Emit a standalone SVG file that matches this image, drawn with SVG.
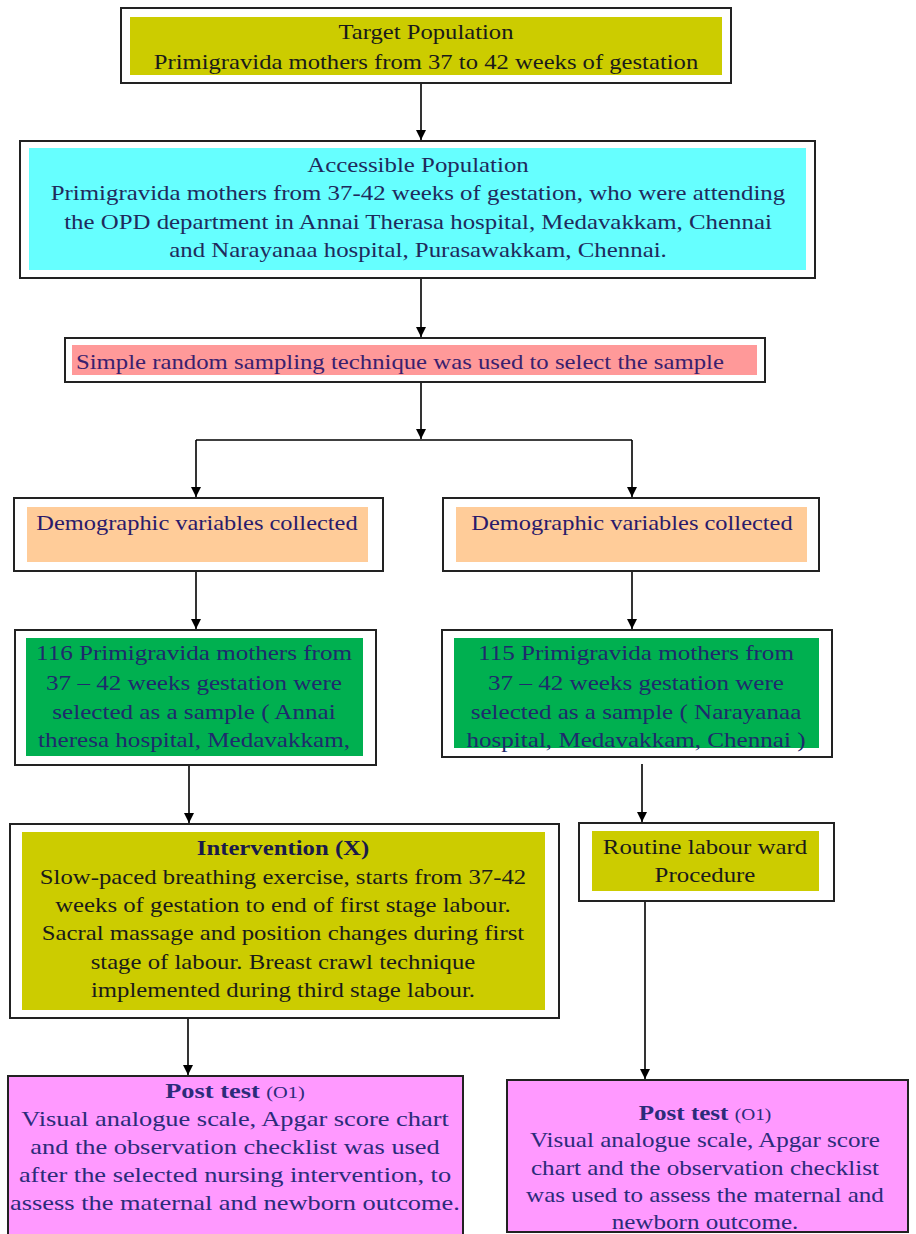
<svg xmlns="http://www.w3.org/2000/svg" width="916" height="1234" viewBox="0 0 916 1234">
<defs>
<marker id="ah" viewBox="0 0 10 10" refX="10" refY="5" markerWidth="10" markerHeight="10" markerUnits="userSpaceOnUse" orient="auto">
<path d="M0,0 L10,5 L0,10 z" fill="#000"/>
</marker>
<style>
.frame{fill:#fff;stroke:#222;stroke-width:2}
.t{font-family:"Liberation Serif","Times New Roman",serif;font-size:22px;text-anchor:middle}
.c{stroke:#000;stroke-width:1.6;fill:none}
.ca{stroke:#000;stroke-width:1.6;fill:none;marker-end:url(#ah)}
</style>
</defs>
<rect width="916" height="1234" fill="#fff"/>
<g id="connectors">
<line class="ca" x1="421" y1="83" x2="421" y2="140"/>
<line class="ca" x1="421" y1="278" x2="421" y2="337"/>
<line class="ca" x1="421" y1="382" x2="421" y2="439"/>
<polyline class="c" points="196,440 632,440"/>
<line class="ca" x1="196" y1="440" x2="196" y2="497"/>
<line class="ca" x1="632" y1="440" x2="632" y2="497"/>
<line class="ca" x1="196" y1="571" x2="196" y2="629"/>
<line class="ca" x1="632" y1="571" x2="632" y2="629"/>
<line class="ca" x1="189" y1="765" x2="189" y2="823"/>
<line class="ca" x1="642" y1="764" x2="642" y2="822"/>
<line class="ca" x1="188" y1="1018" x2="188" y2="1075"/>
<line class="ca" x1="645" y1="902" x2="645" y2="1079"/>
</g>
<g id="target">
<rect class="frame" x="121" y="8" width="610" height="75"/>
<rect x="130" y="17" width="592" height="58" fill="#CCCC00"/>
<g transform="translate(426 0) scale(1.12 1) translate(-426 0)" fill="#1a1a1a">
<text class="t" x="426" y="39">Target Population</text>
<text class="t" x="426" y="69">Primigravida mothers from 37 to 42 weeks of gestation</text>
</g>
</g>
<g id="accessible">
<rect class="frame" x="20" y="141" width="795" height="137"/>
<rect x="29" y="148" width="777" height="122" fill="#66FFFF"/>
<g transform="translate(418 0) scale(1.13 1) translate(-418 0)" fill="#1f2a5c">
<text class="t" x="418" y="172">Accessible Population</text>
<text class="t" x="418" y="200">Primigravida mothers from 37-42 weeks of gestation, who were attending</text>
<text class="t" x="418" y="229">the OPD department in Annai Therasa hospital, Medavakkam, Chennai</text>
<text class="t" x="418" y="257">and Narayanaa hospital, Purasawakkam, Chennai.</text>
</g>
</g>
<g id="sampling">
<rect class="frame" x="65" y="338" width="700" height="44"/>
<rect x="72" y="345" width="685" height="30" fill="#FF9999"/>
<g transform="translate(76 0) scale(1.125 1) translate(-76 0)" fill="#3a1f6e">
<text class="t" x="76" y="369" style="text-anchor:start">Simple random sampling technique was used to select the sample</text>
</g>
</g>
<g id="demo-left">
<rect class="frame" x="14" y="498" width="369" height="73"/>
<rect x="27" y="507" width="341" height="55" fill="#FFCC99"/>
<g transform="translate(197 0) scale(1.11 1) translate(-197 0)" fill="#2a1a6a">
<text class="t" x="197" y="530">Demographic variables collected</text>
</g>
</g>
<g id="demo-right">
<rect class="frame" x="443" y="498" width="376" height="73"/>
<rect x="456" y="507" width="351" height="55" fill="#FFCC99"/>
<g transform="translate(632 0) scale(1.11 1) translate(-632 0)" fill="#2a1a6a">
<text class="t" x="632" y="530">Demographic variables collected</text>
</g>
</g>
<g id="sample-left">
<rect class="frame" x="15" y="630" width="361" height="135"/>
<rect x="26" y="638" width="337" height="118" fill="#00B050"/>
<g transform="translate(194 0) scale(1.14 1) translate(-194 0)" fill="#1f2a6c">
<text class="t" x="194" y="660">116 Primigravida mothers from</text>
<text class="t" x="194" y="690">37 – 42 weeks gestation were</text>
<text class="t" x="194" y="719">selected as a sample   ( Annai</text>
<text class="t" x="194" y="747">theresa hospital, Medavakkam,</text>
</g>
</g>
<g id="sample-right">
<rect class="frame" x="442" y="630" width="390" height="127"/>
<rect x="454" y="638" width="365" height="110" fill="#00B050"/>
<g transform="translate(636 0) scale(1.14 1) translate(-636 0)" fill="#1f2a6c">
<text class="t" x="636" y="660">115 Primigravida mothers from</text>
<text class="t" x="636" y="690">37 – 42 weeks gestation were</text>
<text class="t" x="636" y="719">selected as a sample ( Narayanaa</text>
<text class="t" x="636" y="747">hospital, Medavakkam, Chennai )</text>
</g>
</g>
<g id="intervention">
<rect class="frame" x="10" y="824" width="549" height="194"/>
<rect x="22" y="832" width="523" height="178" fill="#CCCC00"/>
<g transform="translate(283 0) scale(1.125 1) translate(-283 0)" fill="#1a1a1a">
<text class="t" x="283" y="855" fill="#1a1a4a" font-weight="bold">Intervention (X)</text>
<text class="t" x="283" y="884">Slow-paced breathing exercise, starts from 37-42</text>
<text class="t" x="283" y="912">weeks of gestation to end of first stage labour.</text>
<text class="t" x="283" y="940">Sacral massage and position changes during first</text>
<text class="t" x="283" y="969">stage of labour. Breast crawl technique</text>
<text class="t" x="283" y="997">implemented during third stage labour.</text>
</g>
</g>
<g id="routine">
<rect class="frame" x="579" y="823" width="255" height="78"/>
<rect x="592" y="831" width="227" height="60" fill="#CCCC00"/>
<g transform="translate(705 0) scale(1.13 1) translate(-705 0)" fill="#1a1a1a">
<text class="t" x="705" y="854">Routine labour ward</text>
<text class="t" x="705" y="882">Procedure</text>
</g>
</g>
<g id="post-left">
<rect x="8" y="1076" width="455" height="160" fill="#FF99FF" stroke="#222" stroke-width="2"/>
<g transform="translate(235 0) scale(1.2 1) translate(-235 0)" fill="#2b2b7a">
<text class="t" x="235" y="1098"><tspan font-weight="bold">Post test </tspan><tspan font-size="17">(O1)</tspan></text>
<text class="t" x="235" y="1126">Visual analogue scale, Apgar score chart</text>
<text class="t" x="235" y="1154">and the observation checklist was used</text>
<text class="t" x="235" y="1182">after the selected nursing intervention, to</text>
<text class="t" x="235" y="1210">assess the maternal and newborn outcome.</text>
</g>
</g>
<g id="post-right">
<rect x="507" y="1080" width="401" height="152" fill="#FF99FF" stroke="#222" stroke-width="2"/>
<g transform="translate(705 0) scale(1.14 1) translate(-705 0)" fill="#2b2b7a">
<text class="t" x="705" y="1120"><tspan font-weight="bold">Post test </tspan><tspan font-size="17">(O1)</tspan></text>
<text class="t" x="705" y="1147">Visual analogue scale, Apgar score</text>
<text class="t" x="705" y="1175">chart and the observation checklist</text>
<text class="t" x="705" y="1202">was used to assess the maternal and</text>
<text class="t" x="705" y="1229">newborn outcome.</text>
</g>
</g>
</svg>
